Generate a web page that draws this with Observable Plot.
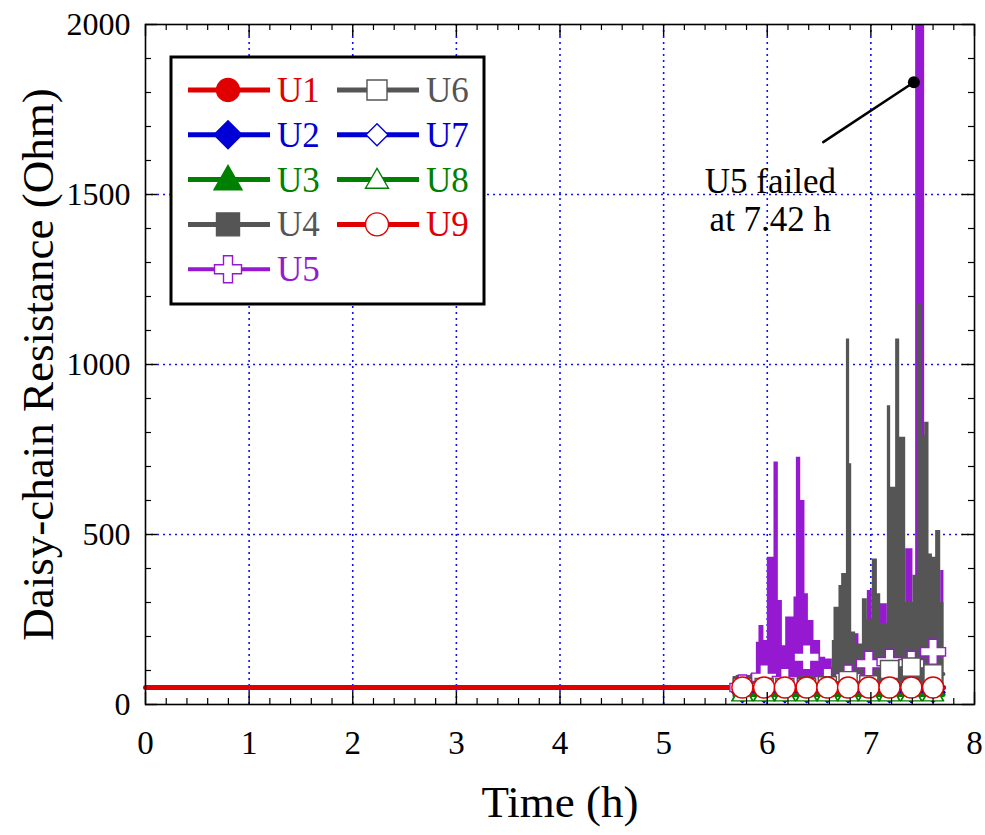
<!DOCTYPE html>
<html><head><meta charset="utf-8">
<script src="https://cdn.jsdelivr.net/npm/d3@7"></script>
<script src="https://cdn.jsdelivr.net/npm/@observablehq/plot@0.6"></script>
<style>
body{margin:0;background:#fff;}
#wrap{position:relative;width:985px;height:835px;}
#wrap svg{display:block;}
#legend{position:absolute;left:0;top:0;pointer-events:none;}
</style></head><body><div id="wrap"></div>
<script>
// ---------- data ----------
const seriesNames  = ["U1","U2","U3","U4","U5","U6","U7","U8","U9"];
const seriesColors = ["#e00000","#0000d6","#008000","#555555","#9619d2","#555555","#0000d6","#008000","#e00000"];
const seriesSymbols= ["circle","rhombus","triangle","square","cross","square","rhombus","triangle","circle"];
const seriesOpen   = [false,false,false,false,true,true,true,true,true];

const markerT = [5.76, 5.97, 6.17, 6.38, 6.58, 6.78, 6.98, 7.18, 7.39, 7.60];

const u1T = [0, 5.70, 7.70];
const u1R = [50, 50, 50];
const u1M = [50, 50, 50, 50, 50, 50, 50, 50, 50, 50];

const u2T = [5.70, 7.70];
const u2R = [35, 35];
const u2M = [35, 35, 35, 35, 35, 35, 35, 35, 35, 35];

const u3T = [5.70, 7.70];
const u3R = [30, 30];
const u3M = [30, 30, 30, 30, 30, 30, 30, 30, 30, 30];

const u4T = [5.70, 6.628, 6.644, 6.692, 6.718, 6.764, 6.795, 6.815, 6.853, 6.918, 6.966, 7.014, 7.063, 7.095, 7.159, 7.191, 7.239, 7.278, 7.336, 7.406, 7.449, 7.497, 7.519, 7.561, 7.594, 7.625, 7.674, 7.705];
const u4R = [85, 188, 286, 350, 385, 1075, 708, 213, 178, 311, 250, 428, 326, 238, 879, 639, 1075, 786, 300, 380, 1178, 791, 830, 443, 433, 512, 300, 300];
const u4M = [55, 55, 55, 55, 55, 55, 55, 55, 55, 55];

const u5T = [5.65, 5.84, 5.895, 5.92, 5.968, 6.001, 6.065, 6.107, 6.146, 6.178, 6.258, 6.281, 6.323, 6.364, 6.397, 6.451, 6.515, 6.564, 6.628, 6.821, 6.885, 6.966, 7.014, 7.078, 7.159, 7.336, 7.406, 7.432, 7.519, 7.674, 7.705];
const u5R = [60, 90, 183, 232, 188, 433, 713, 306, 173, 257, 316, 727, 600, 326, 247, 188, 139, 134, 100, 208, 120, 335, 150, 296, 150, 458, 150, 2010, 300, 394, 394];
const u5M = [50, 80, 70, 139, 70, 79, 120, 126, 120, 155];

const u6T = [5.70, 5.76, 5.97, 6.17, 6.38, 6.58, 6.78, 6.98, 7.18, 7.39, 7.60, 7.70];
const u6R = [50, 50, 50, 50, 50, 55, 70, 58, 103, 110, 90, 90];
const u6M = [50, 50, 50, 50, 55, 70, 58, 103, 110, 90];

const u7T = [5.70, 7.70];
const u7R = [36, 36];
const u7M = [36, 36, 36, 36, 36, 36, 36, 36, 36, 36];

const u8T = [5.70, 7.70];
const u8R = [28, 28];
const u8M = [28, 28, 28, 28, 28, 28, 28, 28, 28, 28];

const u9T = [5.70, 7.70];
const u9R = [50, 50];
const u9M = [50, 50, 50, 50, 50, 50, 50, 50, 50, 50];

const areaBase = 50;

const xMajor = [0, 1, 2, 3, 4, 5, 6, 7, 8];
const xMinor = [0.2,0.4,0.6,0.8,1.2,1.4,1.6,1.8,2.2,2.4,2.6,2.8,3.2,3.4,3.6,3.8,4.2,4.4,4.6,4.8,5.2,5.4,5.6,5.8,6.2,6.4,6.6,6.8,7.2,7.4,7.6,7.8];
const xGrid  = [1, 2, 3, 4, 5, 6, 7];
const yMajor = [0, 500, 1000, 1500, 2000];
const yMinor = [100,200,300,400,600,700,800,900,1100,1200,1300,1400,1600,1700,1800,1900];
const yGrid  = [500, 1000, 1500];

const leaderT = [6.54, 7.415];
const leaderR = [1654, 1830];
const failT = [7.415];
const failR = [1830];
const noteT = [6.03];
const noteR = [1485];
const noteText = ["U5 failed\nat 7.42 h"];

const xTitle = "Time (h)";
const yTitle = "Daisy-chain Resistance (Ohm)";

// ---------- helpers ----------
const rows = (T, R) => T.map((t, i) => ({t, r: R[i]}));
const rhombus = {draw(ctx, size){ const h = Math.sqrt(size / 2); ctx.moveTo(0,-h); ctx.lineTo(h,0); ctx.lineTo(0,h); ctx.lineTo(-h,0); ctx.closePath(); }};
const symOf = s => s === "rhombus" ? rhombus : s;
const markR = {circle: 10.5, rhombus: 8, triangle: 7.6, square: 10.2, cross: 10.5};

function seriesMarks(i, T, R, M, width) {
  const c = seriesColors[i], open = seriesOpen[i], s = seriesSymbols[i];
  return [
    Plot.line(rows(T, R), {x: "t", y: "r", stroke: c, strokeWidth: width}),
    Plot.dot(rows(markerT, M), {x: "t", y: "r", symbol: symOf(s), r: markR[s],
      fill: open ? "white" : c, stroke: c, strokeWidth: 1.4})
  ];
}

const W = 985, H = 835, mL = 145, mR = 11, mT = 24, mB = 131;
const fw = W - mL - mR, fh = H - mT - mB;

const chart = Plot.plot({
  width: W, height: H,
  marginLeft: mL, marginRight: mR, marginTop: mT, marginBottom: mB,
  x: {domain: [0, 8]},
  y: {domain: [0, 2000]},
  style: {fontFamily: "'Liberation Serif', 'Times New Roman', serif", background: "white", color: "black", overflow: "visible"},
  marks: [
    Plot.gridX(xGrid, {stroke: "#1010ff", strokeOpacity: 1, strokeWidth: 1.6, strokeDasharray: "2,4"}),
    Plot.gridY(yGrid, {stroke: "#1010ff", strokeOpacity: 1, strokeWidth: 1.6, strokeDasharray: "2,4"}),
    ...seriesMarks(0, u1T, u1R, u1M, 5),
    ...seriesMarks(1, u2T, u2R, u2M, 4),
    ...seriesMarks(2, u3T, u3R, u3M, 4),
    Plot.areaY(rows(u5T, u5R), {x: "t", y1: areaBase, y2: "r", curve: "step-after", fill: seriesColors[4], clip: true}),
    Plot.areaY(rows(u4T, u4R), {x: "t", y1: areaBase, y2: "r", curve: "step-after", fill: seriesColors[3]}),
    Plot.dot(rows(markerT, u4M), {x: "t", y: "r", symbol: "square", r: markR.square, fill: seriesColors[3], stroke: seriesColors[3]}),
    Plot.dot(rows(markerT, u5M), {x: "t", y: "r", symbol: "cross", r: markR.cross, fill: "white", stroke: seriesColors[4], strokeWidth: 1.4}),
    ...seriesMarks(5, u6T, u6R, u6M, 4),
    ...seriesMarks(6, u7T, u7R, u7M, 4),
    ...seriesMarks(7, u8T, u8R, u8M, 4),
    ...seriesMarks(8, u9T, u9R, u9M, 5),
    // annotation
    Plot.line(rows(leaderT, leaderR), {x: "t", y: "r", stroke: "black", strokeWidth: 2.5}),
    Plot.dot(rows(failT, failR), {x: "t", y: "r", r: 6, fill: "black"}),
    Plot.text(rows(noteT, noteR), {x: "t", y: "r", text: () => noteText[0], fontSize: 35, lineHeight: 1.09, fill: "black"}),
    // inward ticks on all four sides
    Plot.tickX(xMajor, {x: d => d, insetTop: fh - 12, stroke: "black", strokeWidth: 1.4}),
    Plot.tickX(xMajor, {x: d => d, insetBottom: fh - 12, stroke: "black", strokeWidth: 1.4}),
    Plot.tickX(xMinor, {x: d => d, insetTop: fh - 6, stroke: "black", strokeWidth: 1.2}),
    Plot.tickX(xMinor, {x: d => d, insetBottom: fh - 6, stroke: "black", strokeWidth: 1.2}),
    Plot.tickY(yMajor, {y: d => d, insetRight: fw - 12, stroke: "black", strokeWidth: 1.4}),
    Plot.tickY(yMajor, {y: d => d, insetLeft: fw - 12, stroke: "black", strokeWidth: 1.4}),
    Plot.tickY(yMinor, {y: d => d, insetRight: fw - 6, stroke: "black", strokeWidth: 1.2}),
    Plot.tickY(yMinor, {y: d => d, insetLeft: fw - 6, stroke: "black", strokeWidth: 1.2}),
    Plot.frame({stroke: "black", strokeWidth: 1.6}),
    Plot.axisX({ticks: xMajor, tickSize: 0, tickPadding: 26, tickFormat: "d", fontSize: 33, label: null, fill: "black"}),
    Plot.axisY({ticks: yMajor, tickSize: 0, tickPadding: 15, tickFormat: "d", fontSize: 32, label: null, fill: "black"}),
    Plot.text([xTitle], {frameAnchor: "bottom", dy: 98, text: d => d, fontSize: 45, textAnchor: "middle", lineAnchor: "middle", fill: "black"}),
    Plot.text([yTitle], {frameAnchor: "left", dx: -107, rotate: -90, text: d => d, fontSize: 45, textAnchor: "middle", lineAnchor: "middle", fill: "black"})
  ]
});
document.getElementById("wrap").appendChild(chart);

// ---------- legend (overlay) ----------
const leg = d3.select("#wrap").append("svg").attr("id", "legend").attr("width", W).attr("height", H)
  .style("font-family", "'Liberation Serif', 'Times New Roman', serif");
leg.append("rect").attr("x", 171).attr("y", 57).attr("width", 313).attr("height", 247)
  .attr("fill", "white").attr("stroke", "black").attr("stroke-width", 3);
const legSize = {circle: 415, rhombus: 392, triangle: 339, square: 529, cross: 405};
const legSizeOpen = {circle: 415, rhombus: 242, triangle: 229, square: 400, cross: 405};
const d3sym = {circle: d3.symbolCircle, rhombus: rhombus, triangle: d3.symbolTriangle, square: d3.symbolSquare, cross: d3.symbolCross};
seriesNames.forEach((name, i) => {
  const col = i < 5 ? 0 : 1, row = i < 5 ? i : i - 5;
  const x0 = col === 0 ? 188 : 337, y = 90 + row * 44.8;
  const c = seriesColors[i], s = seriesSymbols[i], open = seriesOpen[i];
  leg.append("line").attr("x1", x0).attr("x2", x0 + 82).attr("y1", y).attr("y2", y)
    .attr("stroke", c).attr("stroke-width", s === "cross" ? 4 : 5);
  leg.append("path").attr("transform", `translate(${x0 + 40},${y + (s === "triangle" ? 2 : 0)})`)
    .attr("d", d3.symbol(d3sym[s], open ? legSizeOpen[s] : legSize[s])())
    .attr("fill", open ? "white" : c).attr("stroke", c).attr("stroke-width", 1.4);
  leg.append("text").attr("x", x0 + 89).attr("y", y + 12).attr("fill", c)
    .attr("font-size", 35).text(name);
});
</script>
</body></html>
